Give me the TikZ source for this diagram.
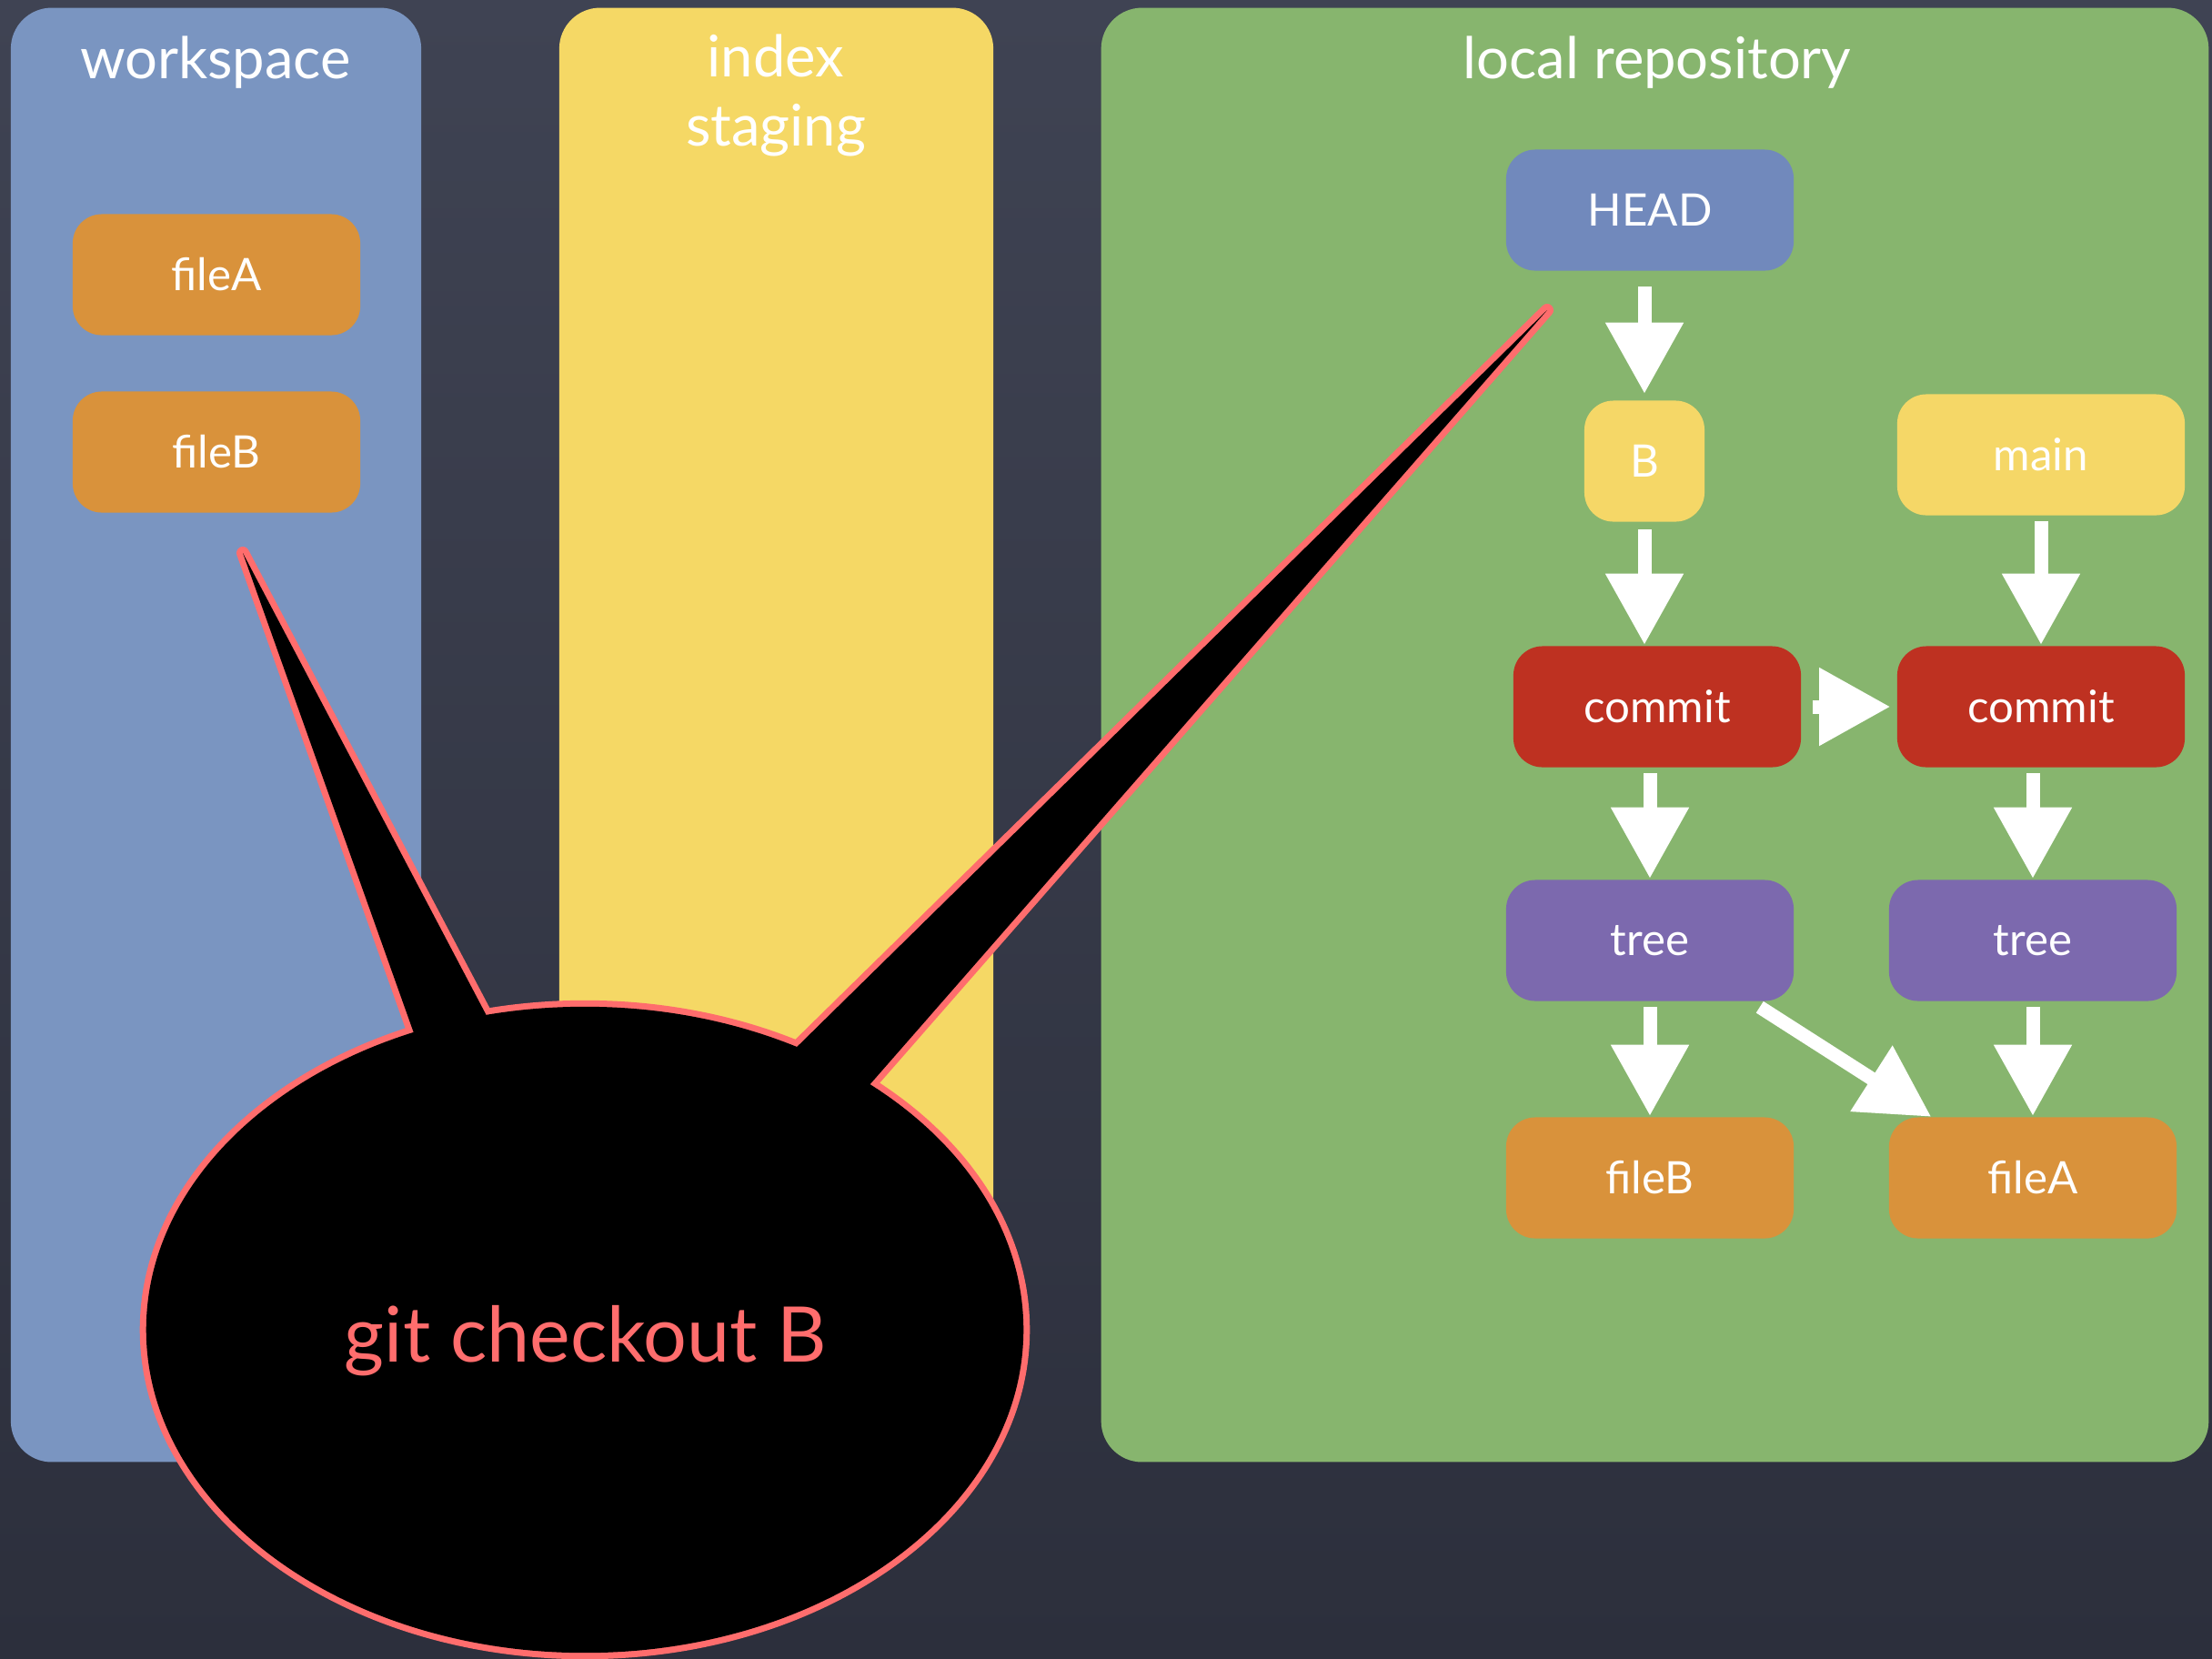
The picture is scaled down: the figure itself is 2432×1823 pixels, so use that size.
\documentclass[tikz,border=0pt]{standalone}
\usepackage{fontspec}
\setmainfont{Lato}
\usetikzlibrary{arrows.meta,calc}
\definecolor{bgc}{HTML}{3F4353}
\definecolor{bgd}{HTML}{2C2F3C}
\definecolor{wsblue}{HTML}{7A95C1}
\definecolor{idxyellow}{HTML}{F5D865}
\definecolor{repgreen}{HTML}{87B56E}
\definecolor{fileorange}{HTML}{D9923B}
\definecolor{commitred}{HTML}{BE3121}
\definecolor{treepurple}{HTML}{7C69AE}
\definecolor{headblue}{HTML}{7189BC}
\definecolor{refyellow}{HTML}{F5D767}
\definecolor{chalkpink}{HTML}{FF6D6D}
\begin{document}
\begin{tikzpicture}[x=0.01cm,y=-0.01cm,
  panel/.style={rounded corners=0.45cm, inner sep=0pt},
  title/.style={text=white, font=\fontsize{18}{22}\selectfont, anchor=base},
  box/.style={rounded corners=0.32cm, minimum width=3.16cm, minimum height=1.33cm,
              inner sep=0pt, text=white, font=\fontsize{14}{17}\selectfont},
  chalk/.style={draw=white, line width=0.15cm,
                -{Triangle[width=0.82cm,length=0.78cm]}},
  bubbleedge/.style={draw=chalkpink, line width=0.14cm, line join=round},
]
% background
\shade[top color=bgc, bottom color=bgd] (0,0) rectangle (2432,1823);
\useasboundingbox (0,0) rectangle (2432,1823);

% panels
\node[panel, fill=wsblue, minimum width=4.51cm, minimum height=15.98cm] (ws) at (237.5,808) {};
\node[panel, fill=idxyellow, minimum width=4.77cm, minimum height=15.98cm] (idx) at (853.5,808) {};
\node[panel, fill=repgreen, minimum width=12.17cm, minimum height=15.98cm] (repo) at (1819.5,808) {};

% titles
\node[title] (tws) at (237,86) {workspace};
\node[title] (tidx1) at (853,84) {index};
\node[title] (tidx2) at (853,160) {staging};
\node[title] (trepo) at (1822,86) {local repository};

% workspace files
\node[box, fill=fileorange] (wA) at (238,302) {fileA};
\node[box, fill=fileorange] (wB) at (238,497) {fileB};

% repository nodes
\node[box, fill=headblue] (HEAD) at (1814,231) {HEAD};
\node[box, fill=refyellow, minimum width=1.32cm] (B) at (1808,507) {B};
\node[box, fill=refyellow] (main) at (2244,500) {main};
\node[box, fill=commitred] (c1) at (1822,777) {commit};
\node[box, fill=commitred] (c2) at (2244,777) {commit};
\node[box, fill=treepurple] (t1) at (1814,1034) {tree};
\node[box, fill=treepurple] (t2) at (2235,1034) {tree};
\node[box, fill=fileorange] (fB) at (1814,1295) {fileB};
\node[box, fill=fileorange] (fA) at (2235,1295) {fileA};

% arrows
\draw[chalk, shorten <=0.17cm, shorten >=0.07cm] (B.north |- HEAD.south) -- (B.north);
\draw[chalk, shorten <=0.08cm, shorten >=0.01cm] (B.south) -- (B.south |- c1.north);
\draw[chalk, shorten <=0.06cm, shorten >=0.01cm] (main.south) -- (c2.north);
\draw[chalk, shorten <=0.12cm, shorten >=0.07cm] (c1.east) -- (c2.west);
\draw[chalk, shorten <=0.06cm, shorten >=0.01cm] (t1.north |- c1.south) -- (t1.north);
\draw[chalk, shorten <=0.06cm, shorten >=0.01cm] (t2.north |- c2.south) -- (t2.north);
\draw[chalk, shorten <=0.06cm, shorten >=0.01cm] (t1.south) -- (fB.north);
\draw[chalk, shorten <=0.06cm, shorten >=0.01cm] (t2.south) -- (fA.north);
\draw[chalk] ($(t1.south east)+(-38,6)$) -- ($(fA.north west)+(47,0)$);

% speech bubble: pink outline under a black fill
\coordinate (tipL) at (267,608);
\coordinate (tipR) at (1701,341);
\path[bubbleedge] (643,1462) ellipse [x radius=4.82cm, y radius=3.55cm];
\path[bubbleedge] (tipL) -- (475,1192) -- (562,1168) -- cycle;
\path[bubbleedge] (tipR) -- (811,1215) -- (899,1258) -- cycle;
\fill[black] (643,1462) ellipse [x radius=4.82cm, y radius=3.55cm];
\fill[black] (tipL) -- (475,1192) -- (562,1168) -- cycle;
\fill[black] (tipR) -- (811,1215) -- (899,1258) -- cycle;
\node[text=chalkpink, font=\fontsize{24}{29}\selectfont] (cmd) at (644,1474) {git checkout B};
\end{tikzpicture}
\end{document}
